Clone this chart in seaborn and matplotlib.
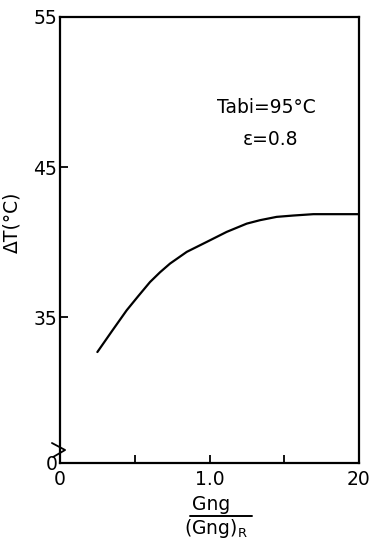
import matplotlib
matplotlib.use("Agg")
import matplotlib.pyplot as plt
import seaborn as sns
import pandas as pd
from matplotlib.lines import Line2D

# Data
ratio = [0.25, 0.348, 0.446, 0.524, 0.602, 0.669, 0.736, 0.848, 0.981, 1.115,
         1.249, 1.338, 1.449, 1.561, 1.695, 2.0]
delta_t = [32.69, 34.09, 35.47, 36.42, 37.35, 38.0, 38.58, 39.36, 40.02, 40.69,
           41.24, 41.47, 41.69, 41.78, 41.87, 41.87]
x_ticks = [0.0, 1.0, 2.0]
x_tick_labels = ["0", "1.0", "20"]
y_ticks = [25.3, 35, 45, 55]
y_tick_labels = ["0", "35", "45", "55"]
annot_1 = "Tabi=95°C"
annot_2 = "ε=0.8"

sns.set_theme(style="white")
plt.rcParams['font.family'] = ['DejaVu Sans']
FS = 13.5

fig = plt.figure(figsize=(3.78, 5.45), dpi=100)
ax = fig.add_axes([60/378, 1-463/545, 299/378, 446/545])

df = pd.DataFrame({"x": ratio, "y": delta_t})
sns.lineplot(data=df, x="x", y="y", ax=ax, color="black", linewidth=1.6)

ax.set_xlim(0, 2.0)
ax.set_ylim(25.3, 55)
ax.set_xticks(x_ticks)
ax.set_xticklabels(x_tick_labels, fontsize=FS)
ax.set_xticks([0.5, 1.5], minor=True)
ax.set_yticks(y_ticks)
ax.set_yticklabels(y_tick_labels, fontsize=FS)
ax.tick_params(axis="both", which="both", direction="in", length=6, width=1.3,
               colors="black", labelcolor="black", bottom=True, left=True, pad=3)
ax.tick_params(axis="y", which="major", pad=2)
ax.tick_params(axis="x", which="major", pad=5)
for s in ax.spines.values():
    s.set_visible(True)
    s.set_color("black")
    s.set_linewidth(1.6)

ax.set_xlabel("")
ax.set_ylabel("ΔT(°C)", fontsize=FS, color="black")
ax.yaxis.set_label_coords(-0.13, 0.54)

ax.text(0.525, 0.796, annot_1, transform=ax.transAxes, fontsize=FS, va="center",
        ha="left", color="black")
ax.text(0.612, 0.726, annot_2, transform=ax.transAxes, fontsize=FS, va="center",
        ha="left", color="black")

# Axis break mark near the bottom of the y axis
bx = [-0.027, 0.017, -0.023]
by = [(463-443)/446, (463-450)/446, (463-457)/446]
ax.add_line(Line2D(bx, by, transform=ax.transAxes, color="black", lw=1.3, clip_on=False))

# Fraction x label
fig.text(211/378, 1-505/545, "Gng", ha="center", va="center", fontsize=FS, color="black")
fig.add_artist(Line2D([190/378, 252/378], [1-516/545, 1-516/545], color="black", lw=1.4))
fig.text(216/378, 1-529/545, "(Gng)$_\\mathregular{R}$", ha="center", va="center",
         fontsize=FS, color="black")

fig.savefig("out.png", dpi=100)
